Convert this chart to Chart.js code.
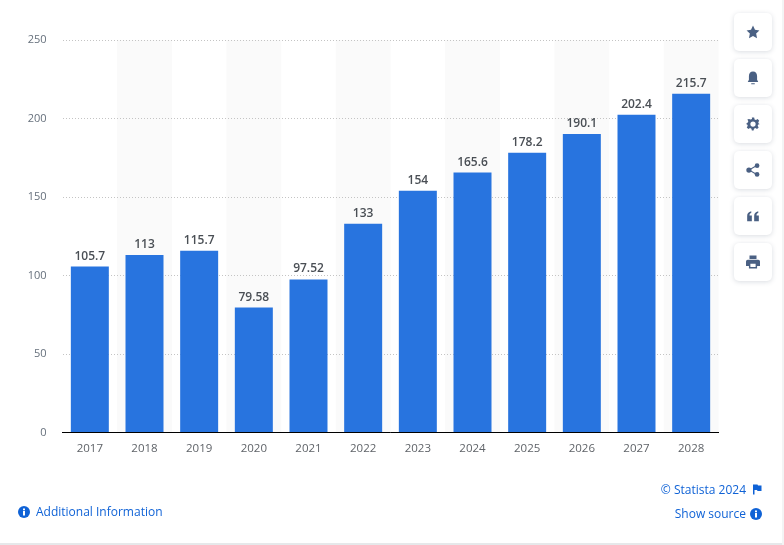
<!DOCTYPE html>
<html>
<head>
<meta charset="utf-8">
<script src="https://cdn.jsdelivr.net/npm/chart.js@4/dist/chart.umd.min.js"></script>
<style>
    html, body { margin: 0; padding: 0; background: #fff; overflow: hidden; }
    body { width: 784px; height: 545px; position: relative; font-family: "Open Sans", sans-serif; }
    #chart { position: absolute; left: 0; top: 0; }
    #edge { position: absolute; left: 0; top: 543px; width: 784px; height: 2px; background: #e6e8ea; }
    #edgeRight { position: absolute; left: 782px; top: 0; width: 2px; height: 545px; background: #f3f4f5; }
    .btn { position: absolute; left: 734px; width: 38px; height: 38px; background: #fff; border-radius: 5px;
           box-shadow: 0 1px 5px rgba(70, 85, 110, 0.2); display: flex; align-items: center; justify-content: center; }
    .btn svg { width: 14px; height: 14px; fill: #4a6083; }
    .link { position: absolute; font-size: 12px; color: #0f62d6; white-space: nowrap; line-height: 16px; }
    .dot { position: absolute; width: 12px; height: 12px; }
</style>
</head>
<body>
<canvas id="chart" width="784" height="545"></canvas>
<div id="edge"></div>
<div id="edgeRight"></div>

<div class="btn" style="top:13px"><svg viewBox="0 0 24 24"><path d="M12 1l3.4 7.3 7.6 1-5.6 5.4 1.5 8L12 18.800l-6.900 3.900 1.500-8L1 9.300l7.600-1z"/></svg></div>
<div class="btn" style="top:59px"><svg viewBox="0 0 24 24"><path d="M12 1c-4.500 0-7 3.500-7 8v6l-2 4h18l-2-4V9c0-4.500-2.500-8-7-8zM9 21h6v1.500H9z"/></svg></div>
<div class="btn" style="top:105px"><svg viewBox="0 0 24 24"><path fill-rule="evenodd" d="M10 1h4l.7 3.200 2.400 1 2.800-1.700 2.800 2.800-1.700 2.800 1 2.400L24 12v0l-3 .7-1 2.400 1.700 2.800-2.800 2.800-2.800-1.700-2.400 1L13 23h-3l-.7-3-2.400-1-2.800 1.700-2.800-2.800L3 15.100l-1-2.400L0 12l3-2.500 1-2.400-1.700-2.800 2.800-1 2.800 1 2.400-1zM12 7.500a4.500 4.500 0 1 0 0 9 4.500 4.500 0 0 0 0-9z"/></svg></div>
<div class="btn" style="top:151px"><svg viewBox="0 0 24 24"><circle cx="19" cy="4.500" r="4"/><circle cx="5" cy="12" r="4.500"/><circle cx="19" cy="19.500" r="4"/><path d="M5 11l13-7.500 1 1.800L7 12l12 6.700-1 1.800L5 13z"/></svg></div>
<div class="btn" style="top:197px"><svg viewBox="0 0 24 24"><path d="M2 21v-9c0-4 2-7 7-8v3c-2 .5-3 1.500-3 4h4v10zM14 21v-9c0-4 2-7 7-8v3c-2 .5-3 1.500-3 4h4v10z"/></svg></div>
<div class="btn" style="top:243px"><svg viewBox="0 0 24 24"><path fill-rule="evenodd" d="M6 1h12v6H6zM3 8h18a3 3 0 0 1 3 3v8h-5v4H5v-4H0v-8a3 3 0 0 1 3-3zM7.500 15v5.500h9V15z"/></svg></div>

<svg class="dot" style="left:18px;top:506px" viewBox="0 0 24 24"><circle cx="12" cy="12" r="12" fill="#0f62d6"/><rect x="10" y="10" width="4" height="9" fill="#fff"/><rect x="10" y="5" width="4" height="3.500" fill="#fff"/></svg>
<div class="link" style="left:36px;top:504px">Additional Information</div>
<div class="link" style="right:38px;top:482px">© Statista 2024</div>
<svg class="dot" style="left:752px;top:484px;width:10px;height:11px" viewBox="0 0 20 22"><path d="M2 1h9l1 2h7v11h-8l-1-2H5v9H2z" fill="#0f62d6"/></svg>
<div class="link" style="right:38px;top:506px">Show source</div>
<svg class="dot" style="left:750px;top:508px" viewBox="0 0 24 24"><circle cx="12" cy="12" r="12" fill="#0f62d6"/><rect x="10" y="10" width="4" height="9" fill="#fff"/><rect x="10" y="5" width="4" height="3.500" fill="#fff"/></svg>

<script>
var years = ['2017', '2018', '2019', '2020', '2021', '2022', '2023', '2024', '2025', '2026', '2027', '2028'];
var revenue = [105.7, 113, 115.7, 79.58, 97.52, 133, 154, 165.6, 178.2, 190.1, 202.4, 215.7];
var yTicks = [0, 50, 100, 150, 200, 250];

// grey band behind every other year
var bandsPlugin = {
    id: 'bands',
    beforeDraw: function (chart) {
        var x = chart.scales.x, area = chart.chartArea, c = chart.ctx;
        var step = x.getPixelForValue(1) - x.getPixelForValue(0);
        c.save();
        c.fillStyle = '#fafafa';
        years.forEach(function (y, i) {
            if (i % 2 === 1) c.fillRect(x.getPixelForValue(i) - step / 2, area.top, step, area.bottom - area.top);
        });
        c.restore();
    }
};

// value labels above the bars
var labelsPlugin = {
    id: 'valueLabels',
    afterDatasetsDraw: function (chart) {
        var c = chart.ctx, bars = chart.getDatasetMeta(0).data;
        c.save();
        c.font = '600 12px "Open Sans"';
        c.fillStyle = '#4a4f55';
        c.textAlign = 'center';
        c.textBaseline = 'alphabetic';
        bars.forEach(function (bar, i) {
            c.fillText(String(revenue[i]), bar.x, bar.y - 7);
        });
        c.restore();
    }
};

new Chart(document.getElementById('chart').getContext('2d'), {
    type: 'bar',
    data: {
        labels: years,
        datasets: [{
            data: revenue,
            backgroundColor: '#2874df',
            barPercentage: 0.695,
            categoryPercentage: 1
        }]
    },
    options: {
        responsive: false,
        animation: false,
        layout: { padding: { top: 40, right: 65.5, bottom: 0, left: 0 } },
        plugins: { legend: { display: false }, tooltip: { enabled: false } },
        scales: {
            x: {
                grid: { display: false },
                border: { color: '#000', width: 1 },
                ticks: { color: '#5f6368', font: { family: '"Open Sans"', size: 11.5 }, padding: 1, maxRotation: 0 },
                afterFit: function (s) { s.height = 112.5; }
            },
            y: {
                min: 0,
                max: 250,
                afterBuildTicks: function (s) { s.ticks = yTicks.map(function (v) { return { value: v }; }); },
                grid: { color: '#c4c4c4', drawTicks: false, lineWidth: 1 },
                border: { display: false, dash: [1, 2] },
                ticks: { color: '#66707c', font: { family: '"Open Sans"', size: 11 }, padding: 16 },
                afterFit: function (s) { s.width = 62.5; }
            }
        }
    },
    plugins: [bandsPlugin, labelsPlugin]
});
</script>
</body>
</html>
